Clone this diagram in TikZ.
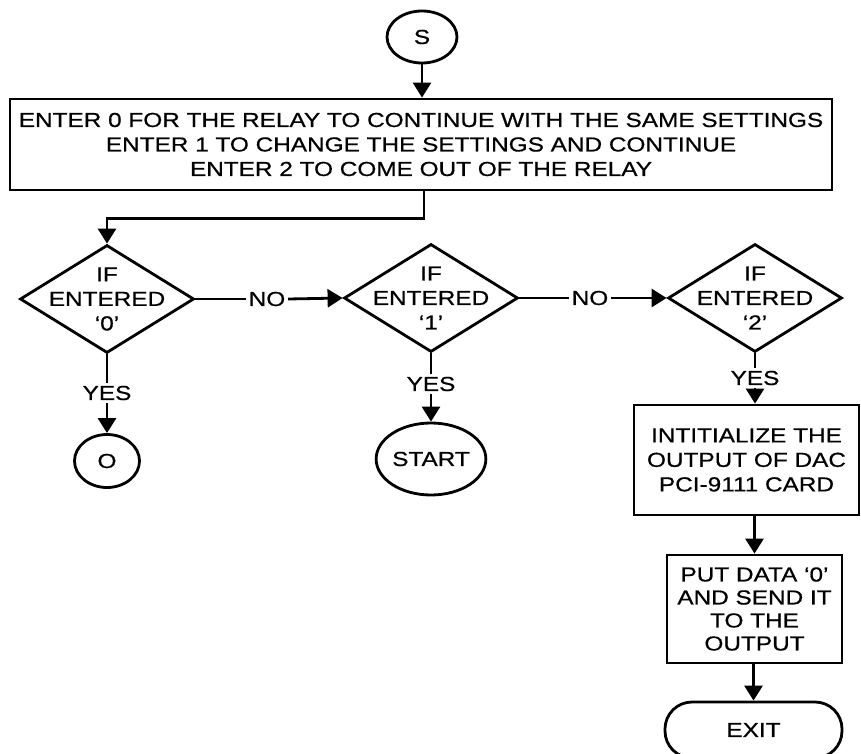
\documentclass[tikz,border=0pt]{standalone}
\usepackage{fontspec}
\setmainfont{Liberation Sans}[FakeStretch=1.2, FakeBold=0.6]
\usetikzlibrary{shapes.geometric,arrows.meta}

\begin{document}
\begin{tikzpicture}[x=1pt,y=-1pt,
  line width=2.8pt,
  every node/.style={font=\fontsize{20.3}{24.5}\selectfont, align=center},
  arr/.style={-{Triangle[length=15pt,width=18pt]}},
  term/.style={draw, ellipse, inner sep=0pt},
  procbox/.style={draw, rectangle, inner sep=0pt},
  dia/.style={draw, diamond, inner sep=0pt, minimum width=174pt, minimum height=108pt},
  dtext/.style={inner sep=0pt},
  lbl/.style={inner sep=1.5pt, fill=white}
]
\useasboundingbox (0,0) rectangle (861,754);

% start connector and menu box
\node[term, minimum width=70pt, minimum height=52pt] (S) at (422,37) {S};
\node[procbox, minimum width=822pt, minimum height=91pt] (menu) at (421,144.5)
  {ENTER 0 FOR THE RELAY TO CONTINUE WITH THE SAME SETTINGS\\
   ENTER 1 TO CHANGE THE SETTINGS AND CONTINUE\\
   ENTER 2 TO COME OUT OF THE RELAY};

% decisions
\node[dia] (d1) at (107,299) {};
\node[dtext] (d1t) at (d1) {IF\\ENTERED\\‘0’};
\node[dia] (d2) at (431,298) {};
\node[dtext] (d2t) at (d2) {IF\\ENTERED\\‘1’};
\node[dia] (d3) at (755,298) {};
\node[dtext] (d3t) at (d3) {IF\\ENTERED\\‘2’};

% branch labels
\node[lbl] (no1) at (267,299) {NO};
\node[lbl] (no2) at (590,298) {NO};
\node[lbl] (y1) at (107,393) {YES};
\node[lbl] (y2) at (431,384) {YES};
\node[lbl] (y3) at (755,378) {YES};

% outcomes
\node[term, minimum width=65pt, minimum height=53pt] (O) at (107,461) {O};
\node[term, minimum width=84pt, minimum height=72pt] (start) at (431,459) {START};
\node[procbox, minimum width=225pt, minimum height=110pt] (init) at (746.5,460)
  {INTITIALIZE THE\\OUTPUT OF DAC\\PCI-9111 CARD};
\node[procbox, minimum width=175pt, minimum height=108pt, font=\fontsize{20.3}{23}\selectfont] (put) at (754.5,609)
  {PUT DATA ‘0’\\AND SEND IT\\TO THE\\OUTPUT};
\node[draw, rectangle, rounded corners=27pt, minimum width=177pt, minimum height=56pt, inner sep=0pt] (exit) at (753.5,730) {EXIT};

% connectors
\draw[arr] (S) -- (S |- menu.north);
\draw[arr] ([xshift=3pt]menu.south) -- ++(0,27) -| (d1.north);
\draw (d1.east) -- (no1.west);
\draw[arr] (no1.east) -- (d2.west);
\draw (d2.east) -- (no2.west);
\draw[arr] (no2.east) -- (d3.west);
\draw (d1.south) -- (y1.north);
\draw[arr] (y1.south) -- (O.north);
\draw (d2.south) -- (y2.north);
\draw[arr] (y2.south) -- (start.north);
\draw (d3.south) -- (y3.north);
\draw[arr] (y3.south) -- (y3.south |- init.north);
\draw[arr] (init.south -| put.north) -- (put.north);
\draw[arr] (put.south) -- (put.south -| exit.north) -- (exit.north);
\end{tikzpicture}
\end{document}
